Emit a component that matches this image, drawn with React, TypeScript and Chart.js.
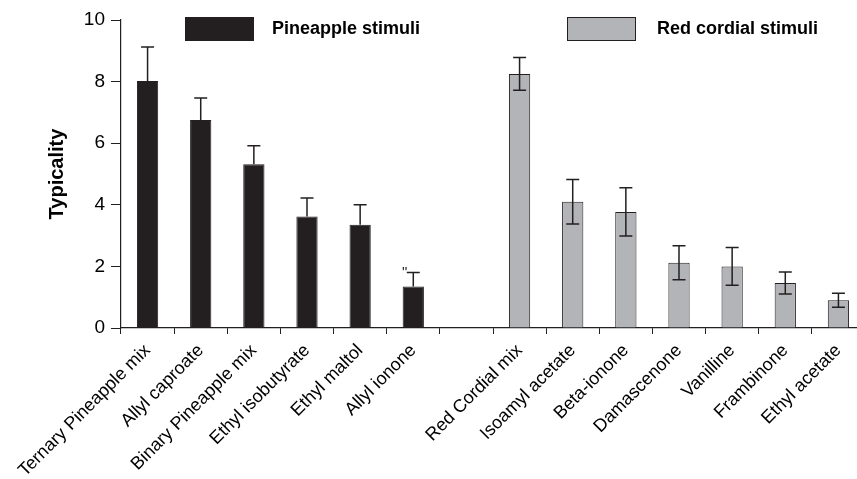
import React, { useEffect, useRef } from "react";
import { Chart, registerables } from "chart.js";

Chart.register(...registerables);

const categories: string[] = [
  "Ternary Pineapple mix",
  "Allyl caproate",
  "Binary Pineapple mix",
  "Ethyl isobutyrate",
  "Ethyl maltol",
  "Allyl ionone",
  "",
  "Red Cordial mix",
  "Isoamyl acetate",
  "Beta-ionone",
  "Damascenone",
  "Vanilline",
  "Frambinone",
  "Ethyl acetate",
];

const seriesLabels = ["Pineapple stimuli", "Red cordial stimuli"];

const pineappleValues: (number | null)[] = [8.02, 6.75, 5.32, 3.62, 3.35, 1.35, null, null, null, null, null, null, null, null];
const pineappleErrors: (number | null)[] = [1.1, 0.72, 0.6, 0.6, 0.65, 0.45, null, null, null, null, null, null, null, null];

const redValues: (number | null)[] = [null, null, null, null, null, null, null, 8.25, 4.1, 3.77, 2.12, 2.0, 1.46, 0.9];
const redErrors: (number | null)[] = [null, null, null, null, null, null, null, 0.53, 0.72, 0.78, 0.55, 0.61, 0.36, 0.23];

const yTicks = [0, 2, 4, 6, 8, 10];
const significanceMark = '"';
const significanceIndex = 5;

const FONT = "'Liberation Sans', Arial, Helvetica, sans-serif";
const INK = "#231f20";
const GREY = "#b3b4b7";

export default function App() {
  const ref = useRef<HTMLCanvasElement>(null);

  useEffect(() => {
    const errorBars = {
      id: "errorBars",
      afterDatasetsDraw(chart: any) {
        const ctx = chart.ctx;
        const yScale = chart.scales.y;
        const sets = [
          { vals: pineappleValues, errs: pineappleErrors, both: false },
          { vals: redValues, errs: redErrors, both: true },
        ];
        ctx.save();
        ctx.strokeStyle = INK;
        ctx.lineWidth = 1.5;
        sets.forEach((s, di) => {
          const meta = chart.getDatasetMeta(di);
          s.vals.forEach((v, i) => {
            const e = s.errs[i];
            if (v == null || e == null) return;
            const x = meta.data[i].x;
            const top = yScale.getPixelForValue(v + e);
            const bot = yScale.getPixelForValue(s.both ? v - e : v);
            const cap = 6.5;
            ctx.beginPath();
            ctx.moveTo(x, top);
            ctx.lineTo(x, bot);
            ctx.moveTo(x - cap, top);
            ctx.lineTo(x + cap, top);
            if (s.both) {
              ctx.moveTo(x - cap, bot);
              ctx.lineTo(x + cap, bot);
            }
            ctx.stroke();
          });
        });
        // significance mark
        const v = pineappleValues[significanceIndex] as number;
        const e = pineappleErrors[significanceIndex] as number;
        const el = chart.getDatasetMeta(0).data[significanceIndex];
        const capY = yScale.getPixelForValue(v + e);
        ctx.fillStyle = INK;
        ctx.font = `15px ${FONT}`;
        ctx.textAlign = "right";
        ctx.textBaseline = "alphabetic";
        ctx.fillText(significanceMark, el.x - 6, capY + 4);
        ctx.restore();
      },
    };

    const legendPlugin = {
      id: "customLegend",
      afterDraw(chart: any) {
        const ctx = chart.ctx;
        const items = [
          { x: 185, fill: INK, label: seriesLabels[0], tx: 272 },
          { x: 567, fill: GREY, label: seriesLabels[1], tx: 657 },
        ];
        ctx.save();
        items.forEach((it) => {
          ctx.fillStyle = it.fill;
          ctx.fillRect(it.x, 17, 69, 24);
          ctx.strokeStyle = INK;
          ctx.lineWidth = 1;
          ctx.strokeRect(it.x + 0.5, 17.5, 68, 23);
          ctx.fillStyle = "#000";
          ctx.font = `bold 18px ${FONT}`;
          ctx.textAlign = "left";
          ctx.textBaseline = "middle";
          ctx.fillText(it.label, it.tx, 29);
        });
        ctx.restore();
      },
    };

    const chart = new Chart(ref.current as HTMLCanvasElement, {
      type: "bar",
      data: {
        labels: categories,
        datasets: [
          {
            label: seriesLabels[0],
            data: pineappleValues,
            backgroundColor: INK,
            borderColor: INK,
            borderWidth: 1,
            barPercentage: 0.4,
            categoryPercentage: 1,
            grouped: false,
          } as any,
          {
            label: seriesLabels[1],
            data: redValues,
            backgroundColor: GREY,
            borderColor: INK,
            borderWidth: 1,
            barPercentage: 0.4,
            categoryPercentage: 1,
            grouped: false,
          } as any,
        ],
      },
      options: {
        responsive: false,
        animation: false,
        devicePixelRatio: 1,
        layout: { padding: { top: 20, right: 15, left: 0, bottom: 0 } },
        plugins: {
          legend: { display: false },
          tooltip: { enabled: false },
        },
        scales: {
          x: {
            offset: true,
            grid: {
              offset: true,
              drawOnChartArea: false,
              drawTicks: true,
              tickLength: 6,
              color: INK,
              lineWidth: 1,
            },
            border: { display: true, color: INK, width: 1.2 },
            ticks: {
              autoSkip: false,
              maxRotation: 45,
              minRotation: 45,
              padding: 6,
              color: "#000",
              font: { family: FONT, size: 18 },
            },
            afterFit: (scale: any) => {
              scale.height = 151;
            },
          },
          y: {
            min: 0,
            max: 10,
            afterBuildTicks: (scale: any) => {
              scale.ticks = yTicks.map((v) => ({ value: v }));
            },
            grid: {
              drawOnChartArea: false,
              drawTicks: true,
              tickLength: 10,
              color: INK,
              lineWidth: 1,
            },
            border: { display: true, color: INK, width: 1.2 },
            ticks: {
              padding: 6,
              color: "#000",
              font: { family: FONT, size: 19 },
            },
            title: {
              display: true,
              text: "Typicality",
              color: "#000",
              font: { family: FONT, size: 20, weight: "bold" },
              padding: { top: 45, bottom: 0 },
            },
            afterFit: (scale: any) => {
              scale.width = 121;
            },
          },
        },
      },
      plugins: [errorBars, legendPlugin],
    });
    return () => chart.destroy();
  }, []);

  return (
    <div
      style={{
        position: "fixed",
        left: 0,
        top: 0,
        width: 857,
        height: 479,
        overflow: "hidden",
        background: "#fff",
      }}
    >
      <canvas ref={ref} width={880} height={479} style={{ display: "block", width: 880, height: 479 }} />
    </div>
  );
}
